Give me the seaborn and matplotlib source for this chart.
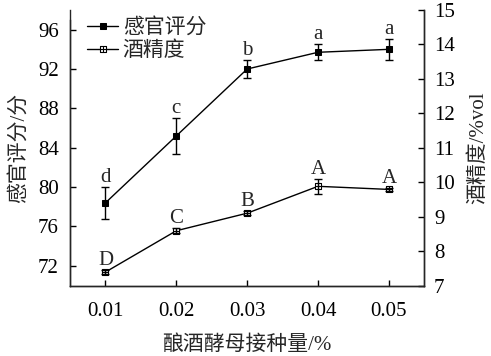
import numpy as np
import matplotlib
matplotlib.use("Agg")
import matplotlib.pyplot as plt
from matplotlib.path import Path
import seaborn as sns

# data
dose = [0.01, 0.02, 0.03, 0.04, 0.05]
dose_labels = ["0.01", "0.02", "0.03", "0.04", "0.05"]
score = [78.4, 85.2, 92.0, 93.7, 94.0]
score_err = [1.6, 1.8, 0.9, 0.8, 1.1]
score_letters = ["d", "c", "b", "a", "a"]
alcohol = [7.39, 8.59, 9.10, 9.88, 9.79]
alcohol_err = [0.06, 0.07, 0.06, 0.22, 0.05]
alcohol_letters = ["D", "C", "B", "A", "A"]

sns.set_style("ticks")
plt.rcParams['font.family'] = ['Liberation Serif', 'Noto Sans CJK SC']
plt.rcParams['font.size'] = 15
plt.rcParams['axes.linewidth'] = 1.0
plt.rcParams['xtick.direction'] = 'in'
plt.rcParams['ytick.direction'] = 'in'

# square with a cross inside, for the alcohol series
box_cross = Path(
    [(-1, -1), (1, -1), (1, 1), (-1, 1), (-1, -1), (0, -1), (0, 1), (-1, 0), (1, 0)],
    [Path.MOVETO, Path.LINETO, Path.LINETO, Path.LINETO, Path.CLOSEPOLY,
     Path.MOVETO, Path.LINETO, Path.MOVETO, Path.LINETO])

fig = plt.figure(figsize=(4.91, 3.56), dpi=100)
ax = fig.add_axes([0.1426, 0.198, 0.8642 - 0.1426, 0.972 - 0.198])
ax2 = ax.twinx()

sns.lineplot(x=dose, y=score, ax=ax, color='black', lw=1.0, marker='s',
             markersize=4.8, markerfacecolor='black', markeredgecolor='black',
             label='感官评分', legend=False)
ax.errorbar(dose, score, yerr=score_err, fmt='none', ecolor='black',
            elinewidth=1.0, capsize=3, capthick=1.0)

sns.lineplot(x=dose, y=alcohol, ax=ax2, color='black', lw=1.0, marker=box_cross,
             markersize=4.6, markerfacecolor='white', markeredgecolor='black',
             markeredgewidth=0.8, label='酒精度', legend=False)
ax2.errorbar(dose, alcohol, yerr=alcohol_err, fmt='none', ecolor='black',
             elinewidth=1.0, capsize=3, capthick=1.0)

for x, y, e, t in zip(dose, score, score_err, score_letters):
    ax.annotate(t, (x, y + e), xytext=(0, 0), textcoords='offset points',
                ha='center', va='bottom', fontsize=15)
for x, y, e, t in zip(dose, alcohol, alcohol_err, alcohol_letters):
    ax2.annotate(t, (x, y + e), xytext=(0, 0), textcoords='offset points',
                 ha='center', va='bottom', fontsize=15)

ax.set_xlim(0.005, 0.055)
ax.set_xticks(dose)
ax.set_xticklabels(dose_labels)
ax.set_ylim(70, 98)
ax.set_yticks([72, 76, 80, 84, 88, 92, 96])
ax2.set_ylim(7, 15)
ax2.set_yticks([7, 8, 9, 10, 11, 12, 13, 14, 15])

ax.spines['top'].set_visible(False)
ax2.spines['top'].set_visible(False)
ax.spines['left'].set_bounds(70, 97)

ax.tick_params(axis='y', length=4, width=1.0, labelsize=15, colors='black', pad=8)
ax.tick_params(axis='x', length=4, width=1.0, labelsize=15, colors='black', pad=12)
ax2.tick_params(axis='y', length=4, width=1.0, labelsize=15, colors='black', pad=7)

ax.set_xlabel('酿酒酵母接种量/%', fontsize=15, labelpad=10)
ax.set_ylabel('感官评分/分', fontsize=15, labelpad=7)
ax2.set_ylabel('酒精度/%vol', fontsize=15, labelpad=10)

h1, l1 = ax.get_legend_handles_labels()
h2, l2 = ax2.get_legend_handles_labels()
ax.legend(h1 + h2, l1 + l2, loc='upper left', frameon=False, fontsize=15,
          handlelength=1.5, handletextpad=0.2, borderaxespad=0.0, labelspacing=0.15,
          bbox_to_anchor=(0.025, 1.0))

fig.savefig('out.png', dpi=100)
